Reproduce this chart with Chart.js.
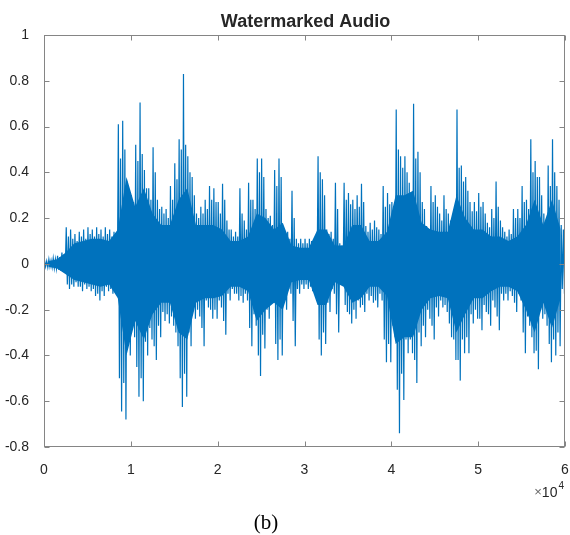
<!DOCTYPE html>
<html>
<head>
<meta charset="utf-8">
<script src="https://cdn.jsdelivr.net/npm/chart.js@4/dist/chart.umd.min.js"></script>
<style>
  html,body{margin:0;padding:0;background:#fff}
  canvas{display:block}
</style>
</head>
<body>
<canvas id="wave" width="570" height="535"></canvas>
<script>
/* waveform envelope, sampled per bin of the signal */
const BIN = 500;        // samples per peak bin
const CORE_BIN = 1000;  // samples per bin of the dense body

// extreme positive / negative peak of each 500-sample bin
const peakHi = [
  0.015,0.02,0.025,0.035,0.05,0.16,0.15,0.13,0.14,0.15,
  0.16,0.15,0.16,0.15,0.16,0.15,0.14,0.61,0.625,0.36,
  0.3,0.52,0.705,0.41,0.33,0.51,0.28,0.25,0.24,0.34,
  0.44,0.545,0.83,0.47,0.38,0.22,0.25,0.28,0.34,0.33,
  0.27,0.35,0.19,0.15,0.14,0.33,0.19,0.355,0.28,0.46,
  0.46,0.24,0.21,0.41,0.46,0.165,0.14,0.32,0.11,0.11,
  0.11,0.11,0.08,0.47,0.37,0.15,0.14,0.355,0.09,0.355,
  0.31,0.28,0.3,0.35,0.165,0.18,0.19,0.15,0.34,0.31,
  0.27,0.675,0.47,0.47,0.355,0.7,0.49,0.27,0.165,0.34,
  0.3,0.22,0.3,0.22,0.21,0.675,0.43,0.38,0.27,0.27,
  0.31,0.27,0.18,0.24,0.36,0.19,0.14,0.15,0.24,0.24,
  0.34,0.28,0.545,0.45,0.38,0.22,0.43,0.545,0.34,0.17
];
const peakLo = [
  -0.015,-0.015,-0.02,-0.03,-0.04,-0.11,-0.1,-0.1,-0.12,-0.11,
  -0.12,-0.14,-0.16,-0.14,-0.12,-0.13,-0.12,-0.645,-0.68,-0.4,
  -0.32,-0.58,-0.6,-0.4,-0.33,-0.42,-0.32,-0.25,-0.26,-0.27,
  -0.36,-0.625,-0.58,-0.36,-0.24,-0.23,-0.36,-0.19,-0.24,-0.24,
  -0.19,-0.31,-0.16,-0.13,-0.16,-0.17,-0.16,-0.36,-0.27,-0.49,
  -0.37,-0.24,-0.16,-0.42,-0.4,-0.2,-0.13,-0.36,-0.13,-0.11,
  -0.11,-0.12,-0.1,-0.4,-0.35,-0.21,-0.13,-0.3,-0.08,-0.21,
  -0.26,-0.24,-0.19,-0.21,-0.16,-0.17,-0.19,-0.16,-0.43,-0.43,
  -0.32,-0.74,-0.595,-0.39,-0.39,-0.52,-0.36,-0.32,-0.24,-0.33,
  -0.23,-0.19,-0.21,-0.32,-0.42,-0.51,-0.39,-0.39,-0.26,-0.24,
  -0.29,-0.21,-0.27,-0.19,-0.29,-0.16,-0.16,-0.14,-0.21,-0.16,
  -0.39,-0.27,-0.39,-0.46,-0.24,-0.27,-0.43,-0.4,-0.36,-0.13
];

// secondary (typical) peaks inside each bin
const midHi = [
  0.012,0.015,0.02,0.03,0.04,0.12,0.11,0.1,0.12,0.11,
  0.13,0.12,0.13,0.12,0.13,0.12,0.11,0.46,0.5,0.3,
  0.27,0.45,0.48,0.33,0.28,0.4,0.24,0.22,0.2,0.28,
  0.37,0.5,0.52,0.4,0.3,0.2,0.22,0.24,0.28,0.27,
  0.22,0.28,0.15,0.12,0.12,0.22,0.15,0.28,0.24,0.4,
  0.38,0.2,0.17,0.34,0.38,0.14,0.11,0.2,0.09,0.09,
  0.09,0.1,0.07,0.4,0.3,0.13,0.11,0.24,0.08,0.28,
  0.26,0.24,0.25,0.27,0.14,0.15,0.16,0.13,0.25,0.26,
  0.24,0.5,0.42,0.4,0.3,0.46,0.4,0.24,0.15,0.27,
  0.25,0.19,0.24,0.19,0.18,0.42,0.36,0.32,0.23,0.23,
  0.25,0.22,0.16,0.2,0.25,0.16,0.12,0.13,0.2,0.2,
  0.27,0.24,0.4,0.38,0.3,0.19,0.34,0.4,0.28,0.15
];
const midLo = [
  -0.012,-0.012,-0.018,-0.025,-0.035,-0.09,-0.09,-0.08,-0.1,-0.09,
  -0.1,-0.11,-0.13,-0.12,-0.1,-0.11,-0.1,-0.5,-0.52,-0.34,
  -0.28,-0.45,-0.5,-0.34,-0.28,-0.36,-0.27,-0.21,-0.22,-0.23,
  -0.3,-0.5,-0.48,-0.3,-0.2,-0.2,-0.28,-0.16,-0.2,-0.2,
  -0.16,-0.25,-0.13,-0.11,-0.13,-0.14,-0.13,-0.28,-0.22,-0.4,
  -0.31,-0.2,-0.14,-0.35,-0.33,-0.17,-0.11,-0.25,-0.11,-0.09,
  -0.09,-0.1,-0.08,-0.33,-0.3,-0.17,-0.11,-0.22,-0.07,-0.18,
  -0.22,-0.2,-0.16,-0.18,-0.13,-0.14,-0.16,-0.13,-0.33,-0.35,
  -0.27,-0.55,-0.48,-0.33,-0.33,-0.42,-0.3,-0.27,-0.2,-0.27,
  -0.19,-0.16,-0.18,-0.26,-0.33,-0.42,-0.33,-0.32,-0.22,-0.2,
  -0.24,-0.18,-0.22,-0.16,-0.23,-0.13,-0.13,-0.12,-0.17,-0.13,
  -0.3,-0.23,-0.32,-0.38,-0.2,-0.22,-0.35,-0.33,-0.3,-0.11
];

// solid body of the signal per 1000-sample bin
const coreHi = [
  0.012,0.02,0.05,0.09,0.1,0.11,0.11,0.1,0.15,0.38,
  0.25,0.33,0.22,0.17,0.17,0.28,0.33,0.17,0.17,0.17,
  0.15,0.1,0.1,0.12,0.22,0.2,0.15,0.18,0.08,0.07,
  0.07,0.15,0.15,0.08,0.08,0.17,0.17,0.1,0.1,0.14,
  0.3,0.3,0.32,0.18,0.15,0.14,0.14,0.3,0.2,0.15,
  0.15,0.12,0.12,0.1,0.12,0.17,0.28,0.17,0.28,0.15
];
const coreLo = [
  -0.012,-0.02,-0.045,-0.07,-0.08,-0.09,-0.1,-0.09,-0.15,-0.4,
  -0.25,-0.33,-0.22,-0.17,-0.17,-0.3,-0.33,-0.17,-0.15,-0.15,
  -0.14,-0.1,-0.1,-0.12,-0.25,-0.2,-0.17,-0.2,-0.08,-0.07,
  -0.07,-0.18,-0.18,-0.08,-0.1,-0.17,-0.15,-0.1,-0.1,-0.14,
  -0.35,-0.32,-0.32,-0.2,-0.15,-0.14,-0.15,-0.3,-0.22,-0.15,
  -0.15,-0.12,-0.1,-0.1,-0.12,-0.2,-0.3,-0.17,-0.28,-0.15
];

const xTicks = [0,10000,20000,30000,40000,50000,60000];
const yTicks = [-0.8,-0.6,-0.4,-0.2,0,0.2,0.4,0.6,0.8,1];

const BLUE = '#0072BD';
const INK = '#262626';
const AXIS = '#858585';

// zig-zag through each bin's peaks so the trace reads like a dense waveform
const wave = [];
peakHi.forEach((h,i)=>{
  const x0 = i*BIN;
  wave.push({x:x0+BIN*0.125,y:h});
  wave.push({x:x0+BIN*0.375,y:midLo[i]});
  wave.push({x:x0+BIN*0.625,y:midHi[i]});
  wave.push({x:x0+BIN*0.875,y:peakLo[i]});
});
const bodyTop = coreHi.map((v,j)=>({x:j*CORE_BIN+CORE_BIN/2,y:v}));
const bodyBot = coreLo.map((v,j)=>({x:j*CORE_BIN+CORE_BIN/2,y:v}));

// matlab-ish box with inward ticks, title, exponent and caption
const decor = {
  id:'decor',
  afterDatasetsDraw(chart){
    const {ctx,chartArea:a,scales:{x,y}} = chart;
    const L=Math.round(a.left)+.5, R=Math.round(a.right)-.5, T=Math.round(a.top)+.5, B=Math.round(a.bottom)-.5;
    ctx.save();
    ctx.strokeStyle=AXIS; ctx.lineWidth=1;
    ctx.strokeRect(L,T,R-L,B-T);
    ctx.beginPath();
    y.ticks.forEach(t=>{
      const p=Math.round(y.getPixelForValue(t.value))+.5;
      ctx.moveTo(L,p); ctx.lineTo(L+5,p);
      ctx.moveTo(R,p); ctx.lineTo(R-5,p);
    });
    x.ticks.forEach(t=>{
      const p=Math.round(x.getPixelForValue(t.value))+.5;
      ctx.moveTo(p,B); ctx.lineTo(p,B-5);
      ctx.moveTo(p,T); ctx.lineTo(p,T+5);
    });
    ctx.stroke();

    ctx.fillStyle=INK;
    ctx.textBaseline='alphabetic';
    ctx.font="bold 18px 'Liberation Sans', Arial, sans-serif";
    ctx.textAlign='center';
    ctx.fillText('Watermarked Audio',(a.left+a.right)/2+1,27);

    // x10^4 exponent under the right end of the axis
    ctx.textAlign='right';
    ctx.font="10px 'Liberation Sans', Arial, sans-serif";
    const rx=a.right-1;
    ctx.fillText('4',rx,489);
    const w4=ctx.measureText('4').width;
    ctx.font="14px 'Liberation Sans', Arial, sans-serif";
    ctx.fillText('10',rx-w4-1,497);
    const w10=ctx.measureText('10').width;
    ctx.fillStyle='#666';
    ctx.font="13px 'Liberation Sans', Arial, sans-serif";
    ctx.fillText('\u00d7',rx-w4-w10-1,496);

    ctx.fillStyle='#000';
    ctx.textAlign='center';
    ctx.font="21px 'Liberation Serif', 'Times New Roman', serif";
    ctx.fillText('(b)',266,529);
    ctx.restore();
  }
};

new Chart(document.getElementById('wave'),{
  type:'line',
  data:{datasets:[
    {data:bodyTop,borderWidth:0,pointRadius:0,backgroundColor:BLUE,fill:'+1'},
    {data:bodyBot,borderWidth:0,pointRadius:0,fill:false},
    {data:wave,borderColor:BLUE,borderWidth:1.2,pointRadius:0,tension:0,fill:false}
  ]},
  options:{
    responsive:false,animation:false,
    layout:{padding:{left:0,right:5,top:35,bottom:60}},
    plugins:{legend:{display:false},tooltip:{enabled:false},title:{display:false}},
    scales:{
      x:{type:'linear',min:0,max:60000,
        grid:{display:false},border:{display:false},
        afterBuildTicks:s=>{s.ticks=xTicks.map(v=>({value:v}));},
        afterFit:s=>{s.height=28;s.paddingLeft=0;s.paddingRight=0;},
        ticks:{color:INK,padding:7,maxRotation:0,autoSkip:false,
          font:{family:"'Liberation Sans', Arial, sans-serif",size:14},
          callback:v=>String(v/10000)}},
      y:{type:'linear',min:-0.8,max:1,
        grid:{display:false},border:{display:false},
        afterBuildTicks:s=>{s.ticks=yTicks.map(v=>({value:v}));},
        afterFit:s=>{s.width=44;s.paddingTop=0;s.paddingBottom=0;},
        ticks:{color:INK,padding:7,autoSkip:false,
          font:{family:"'Liberation Sans', Arial, sans-serif",size:14},
          callback:v=>String(+v.toFixed(1))}}
    }
  },
  plugins:[decor]
});
</script>
</body>
</html>
